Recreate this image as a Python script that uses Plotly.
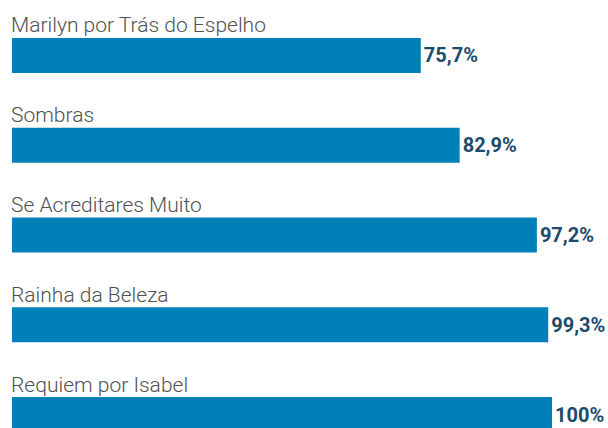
import plotly.graph_objects as go

categories = ["Marilyn por Trás do Espelho", "Sombras", "Se Acreditares Muito",
              "Rainha da Beleza", "Requiem por Isabel"]
values = [75.7, 82.9, 97.2, 99.3, 100]
value_labels = ["75,7%", "82,9%", "97,2%", "99,3%", "100%"]

BAR_COLOR = "#0080b8"
VALUE_COLOR = "#1d4b6b"
LABEL_COLOR = "#505050"

fig = go.Figure()
fig.add_trace(go.Bar(
    x=values, y=categories, orientation="h",
    marker=dict(color=BAR_COLOR, line=dict(width=0)),
    text=value_labels, textposition="outside", constraintext="none",
    textfont=dict(family="Roboto, sans-serif", size=20, color=VALUE_COLOR, weight="bold"),
    cliponaxis=False, hoverinfo="skip",
))

for c in categories:
    fig.add_annotation(
        x=0, y=c, xref="x", yref="y", text=c, showarrow=False,
        xanchor="left", yanchor="bottom", xshift=-3, yshift=16,
        font=dict(family="Roboto, sans-serif", size=21, color=LABEL_COLOR, weight=300),
    )

fig.update_layout(
    width=608, height=428,
    margin=dict(l=12, r=56, t=0, b=0),
    paper_bgcolor="white", plot_bgcolor="white",
    bargap=0.61, showlegend=False,
    xaxis=dict(range=[0, 100], visible=False, fixedrange=True),
    yaxis=dict(type="category", categoryorder="array", categoryarray=categories,
               range=[4.15, -0.618], visible=False, fixedrange=True),
)

fig.write_html(
    "out.html",
    config={"displayModeBar": False, "staticPlot": True},
    post_script="document.body.style.margin='0';document.body.style.overflow='hidden';",
)
